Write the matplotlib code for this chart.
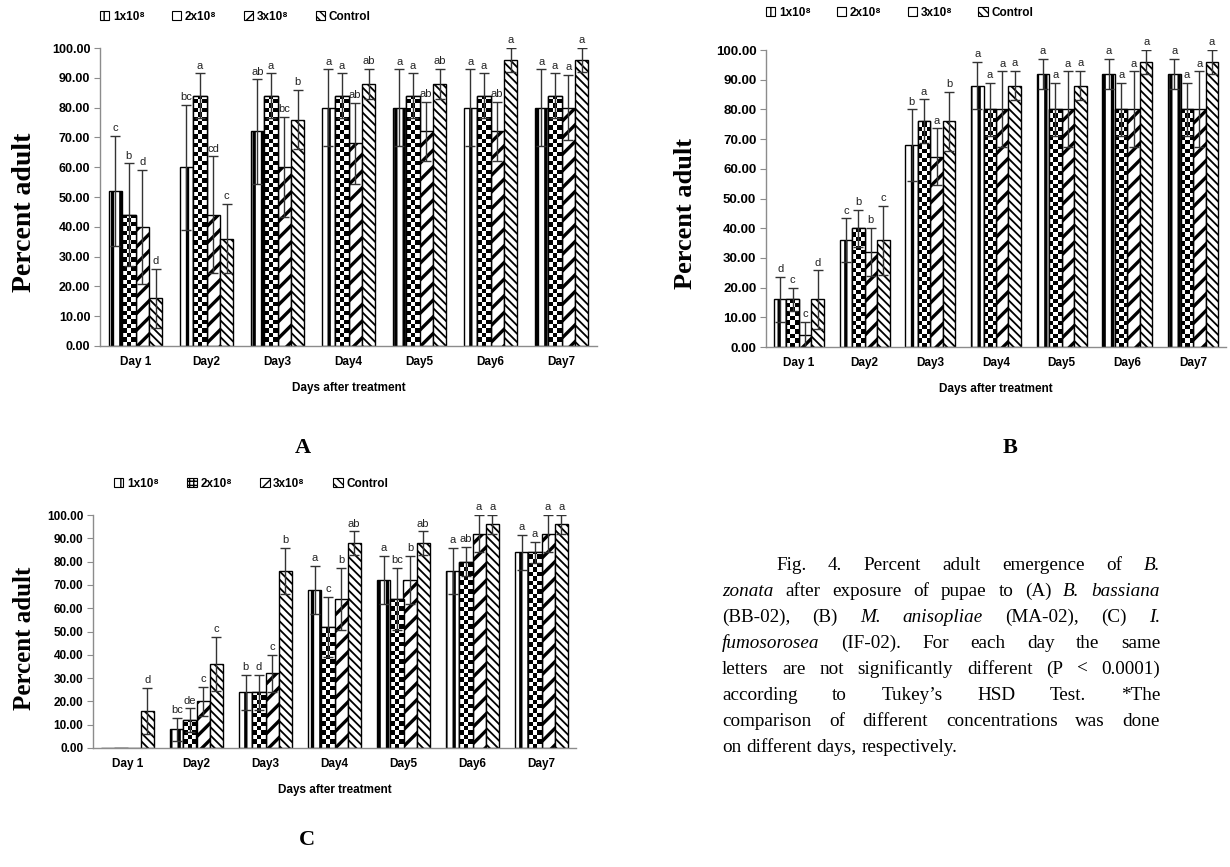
import numpy as np
import matplotlib
matplotlib.use('Agg')
import matplotlib.pyplot as plt
from matplotlib.patches import Patch

W, H = 1230, 867
fig = plt.figure(figsize=(W / 100, H / 100), dpi=100)

days = ['Day 1', 'Day2', 'Day3', 'Day4', 'Day5', 'Day6', 'Day7']
series = ['1x10⁸', '2x10⁸', '3x10⁸', 'Control']
yticks = [0, 10, 20, 30, 40, 50, 60, 70, 80, 90, 100]

# ---------------- Panel A ----------------
A_1x = [52, 60, 72, 80, 80, 80, 80]
A_2x = [44, 84, 84, 84, 84, 84, 84]
A_3x = [40, 44, 60, 68, 72, 72, 80]
A_ct = [16, 36, 76, 88, 88, 96, 96]
A_1x_err = [18.5, 21, 17.5, 12.8, 12.8, 12.8, 12.8]
A_2x_err = [17.3, 7.5, 7.5, 7.5, 7.5, 7.5, 7.5]
A_3x_err = [19.2, 19.6, 16.8, 13.5, 10, 10, 11]
A_ct_err = [9.8, 11.6, 10, 5, 5, 4, 4]
A_1x_let = ['c', 'bc', 'ab', 'a', 'a', 'a', 'a']
A_2x_let = ['b', 'a', 'a', 'a', 'a', 'a', 'a']
A_3x_let = ['d', 'cd', 'bc', 'ab', 'ab', 'ab', 'a']
A_ct_let = ['d', 'c', 'b', 'ab', 'ab', 'a', 'a']

# ---------------- Panel B ----------------
B_1x = [16, 36, 68, 88, 92, 92, 92]
B_2x = [16, 40, 76, 80, 80, 80, 80]
B_3x = [4, 32, 64, 80, 80, 80, 80]
B_ct = [16, 36, 76, 88, 88, 96, 96]
B_1x_err = [7.5, 7.3, 12, 8, 5, 5, 5]
B_2x_err = [4, 6.2, 7.4, 9, 9, 9, 9]
B_3x_err = [4.5, 8, 9.6, 12.8, 12.8, 12.8, 12.8]
B_ct_err = [9.8, 11.6, 10, 5, 5, 4, 4]
B_1x_let = ['d', 'c', 'b', 'a', 'a', 'a', 'a']
B_2x_let = ['c', 'b', 'a', 'a', 'a', 'a', 'a']
B_3x_let = ['c', 'b', 'a', 'a', 'a', 'a', 'a']
B_ct_let = ['d', 'c', 'b', 'a', 'a', 'a', 'a']

# ---------------- Panel C ----------------
C_1x = [0, 8, 24, 68, 72, 76, 84]
C_2x = [0, 12, 24, 52, 64, 80, 84]
C_3x = [0, 20, 32, 64, 72, 92, 92]
C_ct = [16, 36, 76, 88, 88, 96, 96]
C_1x_err = [0, 5, 7.5, 10.3, 10.3, 10, 7.5]
C_2x_err = [0, 5, 7.5, 13, 13.3, 6.3, 4.5]
C_3x_err = [0, 6.3, 8, 13.3, 10.3, 8, 8]
C_ct_err = [9.8, 11.6, 10, 5, 5, 4, 4]
C_1x_let = ['', 'bc', 'b', 'a', 'a', 'a', 'a']
C_2x_let = ['', 'de', 'd', 'c', 'bc', 'ab', 'a']
C_3x_let = ['', 'c', 'c', 'b', 'b', 'a', 'a']
C_ct_let = ['d', 'c', 'b', 'ab', 'ab', 'a', 'a']

SANS = ['Liberation Sans', 'DejaVu Sans']
NARROW = ['Liberation Sans Narrow', 'Liberation Sans', 'DejaVu Sans']
SERIF = ['Liberation Serif', 'DejaVu Serif']

styles = [  # hatch, hatch linewidth
    ('||', 2.4),
    (None, 1.0),     # checkerboard drawn separately
    ('//', 2.4),
    ('\\\\\\\\', 1.3),
]


def add_axes(l, t, r, b):
    return fig.add_axes([l / W, 1 - b / H, (r - l) / W, (b - t) / H])


def checker(ax, rect, px=4.4):
    x0, w, h = rect.get_x(), rect.get_width(), rect.get_height()
    if h <= 0:
        return
    p0 = ax.transData.transform((x0, 0))
    p1 = ax.transData.transform((x0 + w, h))
    wpx, hpx = p1[0] - p0[0], p1[1] - p0[1]
    nx = max(1, int(round(wpx / px)))
    ny = max(1, int(np.ceil(hpx / px)))
    img = np.add.outer(np.arange(ny), np.arange(nx)) % 2
    ytop = ny * px / hpx * h
    im = ax.imshow(img, cmap='binary', vmin=0, vmax=1, extent=(x0, x0 + w, 0, ytop),
                   origin='lower', aspect='auto', interpolation='nearest', zorder=2.1)
    im.set_clip_path(rect)


def panel(ax, vals, errs, lets, tickfam, tickfs, ylfs, xfs, ylx, yly):
    n = len(days)
    x = np.arange(n)
    bw = 0.19
    ax.set_xlim(-0.5, n - 0.5)
    ax.set_ylim(0, 100)
    for i, (v, e, lt) in enumerate(zip(vals, errs, lets)):
        xs = x + (i - 1.5) * bw
        hatch, hlw = styles[i]
        with plt.rc_context({'hatch.linewidth': hlw, 'hatch.color': 'black'}):
            bars = ax.bar(xs, v, bw, color='white', edgecolor='black', linewidth=1.0,
                          hatch=hatch, zorder=2)
        if hatch is None:
            for r in bars:
                checker(ax, r)
            ax.bar(xs, v, bw, fill=False, edgecolor='black', linewidth=1.0, zorder=2.2)
        v = np.asarray(v, float)
        e = np.asarray(e, float)
        m = v > 0
        ax.errorbar(xs[m], v[m], yerr=e[m], fmt='none', ecolor='#333333', elinewidth=1.0,
                    capsize=3.5, capthick=1.0, zorder=3)
        for xx, vv, ee, ll in zip(xs, v, e, lt):
            if ll:
                ax.annotate(ll, (xx, vv + ee), xytext=(0, 2), textcoords='offset points',
                            ha='center', va='bottom', fontsize=8, family=SANS, color='#222222')
    for s in ['top', 'right']:
        ax.spines[s].set_visible(False)
    for s in ['left', 'bottom']:
        ax.spines[s].set_color('#8c8c8c')
        ax.spines[s].set_linewidth(1.0)
    ax.set_yticks(yticks)
    ax.set_yticklabels([f'{v:.2f}' for v in yticks], fontsize=tickfs, fontweight='bold',
                       family=tickfam)
    ax.tick_params(axis='y', length=4, color='#8c8c8c', pad=3)
    ax.set_xticks(x)
    ax.set_xticklabels(days, fontsize=xfs, fontweight='bold', family=tickfam)
    ax.tick_params(axis='x', length=0, pad=7)
    ax.set_xlabel('Days after treatment', fontsize=xfs, fontweight='bold', family=tickfam,
                  labelpad=10)
    # y label: position given in figure pixels (right edge of the rotated text)
    ax.set_ylabel('Percent adult', fontsize=ylfs, fontweight='bold', family=SERIF)
    bb = ax.get_position()
    ax.yaxis.set_label_coords((ylx / W - bb.x0) / bb.width, yly)


def legend(x, y, fam, fs, colsp, checker_handle):
    hs = []
    for i, (hatch, hlw) in enumerate(styles):
        with plt.rc_context({'hatch.linewidth': min(hlw, 1.2)}):
            if hatch is None:
                hs.append(Patch(facecolor='white', edgecolor='black',
                                hatch='++++' if checker_handle else None, linewidth=0.8))
            else:
                hs.append(Patch(facecolor='white', edgecolor='black', hatch=hatch, linewidth=0.8))
    fig.legend(hs, series, loc='center left', bbox_to_anchor=(x / W, 1 - y / H), ncol=4,
               frameon=False, handlelength=0.8, handleheight=0.8, handletextpad=0.3,
               columnspacing=colsp, borderaxespad=0, borderpad=0,
               prop={'family': fam, 'weight': 'bold', 'size': fs})


axA = add_axes(100, 48, 597, 346)
panel(axA, [A_1x, A_2x, A_3x, A_ct], [A_1x_err, A_2x_err, A_3x_err, A_ct_err],
      [A_1x_let, A_2x_let, A_3x_let, A_ct_let], SANS, 9, 20, 8.5, 37, 0.45)
legend(100, 17, SANS, 8.5, 2.3, False)

axB = add_axes(766, 50, 1226, 347)
panel(axB, [B_1x, B_2x, B_3x, B_ct], [B_1x_err, B_2x_err, B_3x_err, B_ct_err],
      [B_1x_let, B_2x_let, B_3x_let, B_ct_let], NARROW, 9.5, 19, 8.5, 697, 0.45)
legend(766, 13, NARROW, 8.5, 2.2, False)

axC = add_axes(93, 515, 576, 748)
panel(axC, [C_1x, C_2x, C_3x, C_ct], [C_1x_err, C_2x_err, C_3x_err, C_ct_err],
      [C_1x_let, C_2x_let, C_3x_let, C_ct_let], SANS, 8.5, 18, 8.5, 36, 0.47)
legend(114, 484, SANS, 8.5, 2.4, True)

for lab, x, y in [('A', 303, 448), ('B', 1010, 448), ('C', 307, 840)]:
    fig.text(x / W, 1 - y / H, lab, fontsize=16, fontweight='bold', family=SERIF,
             ha='center', va='center')

# ---------------- Caption (justified) ----------------
cap = [
    [('Fig.', 0), ('4.', 0), ('Percent', 0), ('adult', 0), ('emergence', 0), ('of', 0), ('B.', 1)],
    [('zonata', 1), ('after', 0), ('exposure', 0), ('of', 0), ('pupae', 0), ('to', 0), ('(A)', 0),
     ('B.', 1), ('bassiana', 1)],
    [('(BB-02),', 0), ('(B)', 0), ('M.', 1), ('anisopliae', 1), ('(MA-02),', 0), ('(C)', 0), ('I.', 1)],
    [('fumosorosea', 1), ('(IF-02).', 0), ('For', 0), ('each', 0), ('day', 0), ('the', 0), ('same', 0)],
    [('letters', 0), ('are', 0), ('not', 0), ('significantly', 0), ('different', 0), ('(P', 0),
     ('<', 0), ('0.0001)', 0)],
    [('according', 0), ('to', 0), ('Tukey’s', 0), ('HSD', 0), ('Test.', 0), ('*The', 0)],
    [('comparison', 0), ('of', 0), ('different', 0), ('concentrations', 0), ('was', 0), ('done', 0)],
    [('on', 0), ('different', 0), ('days,', 0), ('respectively.', 0)],
]
cfs = 13.8
cx0, cx1 = 722, 1160
cy0, cdy = 570, 26
renderer = fig.canvas.get_renderer()
t1 = fig.text(0, 0, 'a b', fontsize=cfs, family=SERIF)
t2 = fig.text(0, 0, 'ab', fontsize=cfs, family=SERIF)
spw = t1.get_window_extent(renderer).width - t2.get_window_extent(renderer).width
t1.remove()
t2.remove()
for li, words in enumerate(cap):
    y = cy0 + li * cdy
    texts = [fig.text(0, 1 - y / H, w, fontsize=cfs, family=SERIF,
                      style='italic' if it else 'normal', ha='left', va='baseline')
             for w, it in words]
    widths = [t.get_window_extent(renderer).width for t in texts]
    start = cx0 + (54 if li == 0 else 0)
    last = li == len(cap) - 1
    gap = spw if last else (cx1 - start - sum(widths)) / (len(texts) - 1)
    xx = start
    for t, w in zip(texts, widths):
        t.set_x(xx / W)
        xx += w + gap

fig.savefig('out.png', dpi=100)
